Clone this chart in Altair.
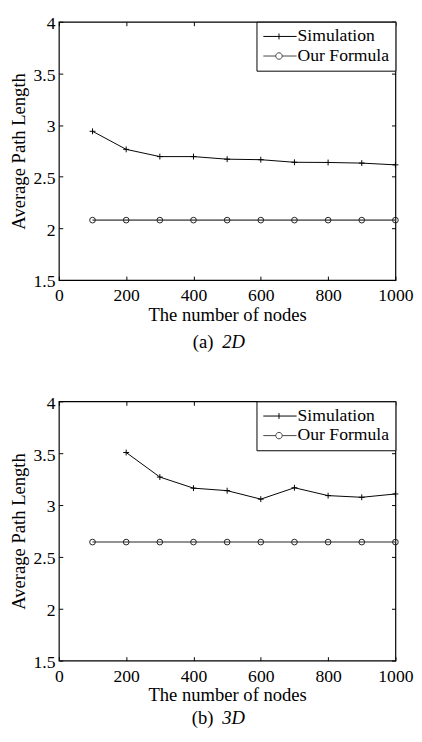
import altair as alt
import pandas as pd

# ---------------- data ----------------
nodes = [100, 200, 300, 400, 500, 600, 700, 800, 900, 1000]
sim_2d = [2.94, 2.765, 2.695, 2.695, 2.67, 2.665, 2.64, 2.638, 2.632, 2.615]
formula_2d = [2.08, 2.08, 2.08, 2.08, 2.08, 2.08, 2.08, 2.08, 2.08, 2.08]

nodes_sim_3d = [200, 300, 400, 500, 600, 700, 800, 900, 1000]
sim_3d = [3.507, 3.27, 3.163, 3.139, 3.057, 3.167, 3.091, 3.075, 3.107]
formula_3d = [2.643, 2.643, 2.643, 2.643, 2.643, 2.643, 2.643, 2.643, 2.643, 2.643]

x_ticks = [0, 200, 400, 600, 800, 1000]
y_ticks = [1.5, 2, 2.5, 3, 3.5, 4]
series_names = ["Simulation", "Our Formula"]
captions = [("(a)", "2D"), ("(b)", "3D")]
x_title = "The number of nodes"
y_title = "Average Path Length"

# ---------------- style ----------------
FONT = "Liberation Serif"
W = 344
H_TOP = 264
H_BOT = 265
PLUS = "M-1,0H1M0,-1V1"
LEG_PLUS = "M-2.667,0H8.667M2.667,-1V1"
LEG_CIRC = ("M-2.667,0H1.567M3.767,0H8.667"
            "M1.567,0A1.1,1.1 0 1,0 3.767,0A1.1,1.1 0 1,0 1.567,0")


def make_panel(sim_x, sim_y, f_x, f_y, cap, H, cap_dy):
    xs = alt.Scale(domain=[0, 1000], nice=False, zero=False)
    ys = alt.Scale(domain=[1.5, 4], nice=False, zero=False)

    x_main = alt.Axis(orient="bottom", values=x_ticks, format="d", grid=False,
                      domain=False, ticks=False, tickSize=0, labelPadding=7,
                      labelFlush=False, labelOverlap=False, labelFont=FONT,
                      labelFontSize=18, labelColor="black", title=x_title,
                      titleFont=FONT, titleFontSize=19, titleFontWeight="normal",
                      titleColor="black", titlePadding=1)
    y_main = alt.Axis(orient="left", values=y_ticks, format="~g", grid=False,
                      domain=False, ticks=False, tickSize=0, labelPadding=4,
                      labelOffset=2, labelFlush=False, labelOverlap=False,
                      labelFont=FONT, labelFontSize=18, labelColor="black",
                      title=y_title, titleFont=FONT, titleFontSize=19,
                      titleFontWeight="normal", titleColor="black",
                      titlePadding=5, minExtent=0)

    def tick_axis(orient, offset, vals):
        return alt.Axis(orient=orient, offset=offset, values=vals, labels=False,
                        domain=False, grid=False, ticks=True, tickSize=4,
                        tickColor="black", tickWidth=1, title=None)

    sim_df = pd.DataFrame({"n": sim_x, "v": sim_y})
    f_df = pd.DataFrame({"n": f_x, "v": f_y})

    sim_line = alt.Chart(sim_df).mark_line(color="black", strokeWidth=1).encode(
        x=alt.X("n:Q", scale=xs, axis=x_main),
        y=alt.Y("v:Q", scale=ys, axis=y_main),
    )
    f_line = alt.Chart(f_df).mark_line(color="#6e6e6e", strokeWidth=1.6).encode(
        x=alt.X("n:Q", scale=xs, axis=tick_axis("top", -H, x_ticks)),
        y=alt.Y("v:Q", scale=ys, axis=tick_axis("right", -W, y_ticks)),
    )
    sim_pts = alt.Chart(sim_df).mark_point(shape=PLUS, size=36, filled=False,
                                           color="black", strokeWidth=1, opacity=1).encode(
        x=alt.X("n:Q", scale=xs, axis=tick_axis("bottom", -H, x_ticks)),
        y=alt.Y("v:Q", scale=ys, axis=tick_axis("left", -W, y_ticks)),
    )
    f_pts = alt.Chart(f_df).mark_point(shape="circle", size=34, filled=False,
                                       color="#222222", strokeWidth=1, opacity=1).encode(
        x=alt.X("n:Q", scale=xs, axis=None),
        y=alt.Y("v:Q", scale=ys, axis=None),
    )

    legend = alt.Legend(orient="top-right", offset=0, title=None, padding=6,
                        rowPadding=2, strokeColor="black", fillColor="white",
                        labelFont=FONT, labelFontSize=18, labelColor="black",
                        labelOffset=18, symbolSize=36, symbolStrokeWidth=1,
                        symbolOpacity=1)
    leg_df = pd.DataFrame({"series": series_names})
    leg_layer = alt.Chart(leg_df).mark_point(filled=False, opacity=0).encode(
        shape=alt.Shape("series:N", scale=alt.Scale(domain=series_names,
                                                    range=[LEG_PLUS, LEG_CIRC]),
                        legend=legend),
        color=alt.Color("series:N", scale=alt.Scale(domain=series_names,
                                                    range=["black", "#444444"]),
                        legend=legend),
    )

    cap_a = alt.Chart(pd.DataFrame({"t": [cap[0]]})).mark_text(
        font=FONT, fontSize=19, align="right", baseline="alphabetic", color="black"
    ).encode(text="t:N", x=alt.value(158), y=alt.value(H + cap_dy))
    cap_b = alt.Chart(pd.DataFrame({"t": [cap[1]]})).mark_text(
        font=FONT, fontSize=19, fontStyle="italic", align="left",
        baseline="alphabetic", color="black"
    ).encode(text="t:N", x=alt.value(167), y=alt.value(H + cap_dy))

    return alt.layer(sim_line, f_line, sim_pts, f_pts, leg_layer, cap_a, cap_b).resolve_axis(
        x="independent", y="independent"
    ).properties(width=W, height=H)


top = make_panel(nodes, sim_2d, nodes, formula_2d, captions[0], H_TOP, 69)
bot = make_panel(nodes_sim_3d, sim_3d, nodes, formula_3d, captions[1], H_BOT, 65)

chart = alt.vconcat(top, bot, spacing=42).resolve_scale(
    color="independent", shape="independent"
).configure(padding={"top": -2, "left": 0, "right": 0, "bottom": 0},
            background="white", font=FONT).configure_view(
    stroke="black", strokeWidth=1.2
).configure_axis(labelFont=FONT, titleFont=FONT).configure_legend(
    labelFont=FONT
).configure_text(font=FONT)

chart.save("out.html", embed_options={"renderer": "svg", "actions": False})
